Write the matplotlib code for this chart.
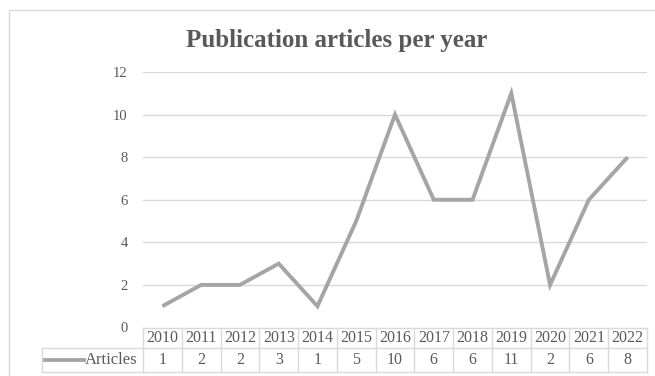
import matplotlib
matplotlib.use("Agg")
import matplotlib.pyplot as plt
from matplotlib.patches import Rectangle
from matplotlib.lines import Line2D
import matplotlib.transforms as mtransforms

years = ["2010", "2011", "2012", "2013", "2014", "2015", "2016",
         "2017", "2018", "2019", "2020", "2021", "2022"]
articles = [1, 2, 2, 3, 1, 5, 10, 6, 6, 11, 2, 6, 8]
y_ticks = [0, 2, 4, 6, 8, 10, 12]
series_name = "Articles"
title = "Publication articles per year"

W, H = 655, 376
DPI = 100
TEXT = "#595959"
GRID = "#D9D9D9"
LINE = "#A5A5A5"
SERIF = ["Liberation Serif", "DejaVu Serif"]

fig = plt.figure(figsize=(W / DPI, H / DPI), dpi=DPI)
fig.patch.set_facecolor("white")

# chart frame
fig.patches.append(Rectangle((9 / W, -0.05), 1.2, 1 - 10 / H + 0.05,
                             transform=fig.transFigure, fill=False,
                             edgecolor=GRID, linewidth=1.0))

left, right = 143 / W, 647 / W
bottom, top = 1 - 327.5 / H, 1 - 72 / H
ax = fig.add_axes([left, bottom, right - left, top - bottom])
ax.set_facecolor("none")

x = list(range(len(years)))
ax.plot(x, articles, color=LINE, linewidth=2.8, solid_joinstyle="miter",
        solid_capstyle="butt", zorder=3)
ax.set_xlim(-0.5, len(years) - 0.5)
ax.set_ylim(0, 12)
ax.set_yticks(y_ticks)
ax.set_yticklabels([str(t) for t in y_ticks], family=SERIF, fontsize=10.5,
                   color=TEXT)
ax.tick_params(axis="y", length=0, pad=11)
ax.set_xticks([])
for s in ax.spines.values():
    s.set_visible(False)
for t in y_ticks:
    if t > 0:
        ax.axhline(t, color=GRID, linewidth=1.0, zorder=1)

fig.text(337 / W, 1 - 41 / H, title, ha="center", va="center",
         family=SERIF, fontsize=18, fontweight="bold", color=TEXT)

# data table below the plot
axh = 255.5
r0, r1, r2 = 0.0, -20.5 / axh, -44.5 / axh
blend = mtransforms.blended_transform_factory(ax.transData, ax.transAxes)
n = len(years)
tbl_kw = dict(transform=blend, color=GRID, linewidth=1.0, clip_on=False)
ax.add_line(Line2D([-0.5, n - 0.5], [r0, r0], **tbl_kw))
ax.add_line(Line2D([-0.5, n - 0.5], [r1, r1], **tbl_kw))
ax.add_line(Line2D([-0.5, n - 0.5], [r2, r2], **tbl_kw))
for i in range(n + 1):
    ax.add_line(Line2D([i - 0.5, i - 0.5], [r0, r2], **tbl_kw))
for i, (yr, v) in enumerate(zip(years, articles)):
    ax.text(i, (r0 + r1) / 2, yr, transform=blend, ha="center", va="center",
            family=SERIF, fontsize=11.5, color=TEXT)
    ax.text(i, (r1 + r2) / 2, str(v), transform=blend, ha="center",
            va="center", family=SERIF, fontsize=11.5, color=TEXT)

# series key cell
ax_px = mtransforms.blended_transform_factory(fig.transFigure, ax.transAxes)
kx0 = 42 / W
fig_kw = dict(transform=ax_px, color=GRID, linewidth=1.0, clip_on=False)
ax.add_line(Line2D([kx0, left], [r1, r1], **fig_kw))
ax.add_line(Line2D([kx0, left], [r2, r2], **fig_kw))
ax.add_line(Line2D([kx0, kx0], [r1, r2], **fig_kw))
ymid = (r1 + r2) / 2
ax.add_line(Line2D([45 / W, 84 / W], [ymid, ymid], transform=ax_px,
                   color=LINE, linewidth=2.8, clip_on=False))
ax.text(85 / W, ymid, series_name, transform=ax_px, ha="left", va="center",
        family=SERIF, fontsize=12, color=TEXT)

fig.savefig("out.png", dpi=DPI, facecolor="white")
